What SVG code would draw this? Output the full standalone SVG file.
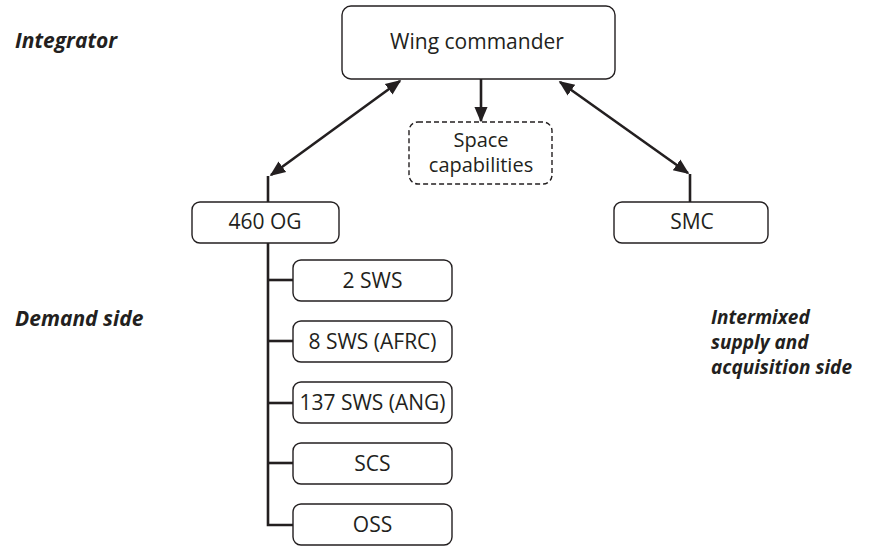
<svg xmlns="http://www.w3.org/2000/svg" width="875" height="546" viewBox="0 0 875 546">
<defs>
<style>
.box{fill:#fff;stroke:#231f20;stroke-width:1.4}
.dash{fill:#fff;stroke:#231f20;stroke-width:1.4;stroke-dasharray:5 3}
.t{font-family:"Open Sans","Noto Sans",sans-serif;font-size:21px;fill:#231f20;text-anchor:middle}
.t2{font-family:"Open Sans","Noto Sans",sans-serif;font-size:20px;fill:#231f20;text-anchor:middle}
.lab{font-family:"Open Sans","Noto Sans",sans-serif;font-size:21px;font-weight:bold;font-style:italic;fill:#231f20}
.lab2{font-family:"Open Sans","Noto Sans",sans-serif;font-size:19px;font-weight:bold;font-style:italic;fill:#231f20}
.c{stroke:#231f20;stroke-width:2.6;fill:none}
</style>
<marker id="ah" viewBox="0 0 10 10" refX="9" refY="5" markerWidth="6" markerHeight="6" orient="auto-start-reverse" markerUnits="strokeWidth">
<path d="M0,0.8 L10,5 L0,9.2 z" fill="#231f20"/>
</marker>
</defs>
<text class="lab" x="15" y="48">Integrator</text>
<text class="lab" x="15" y="326">Demand side</text>
<text class="lab2" x="711" y="324">Intermixed</text>
<text class="lab2" x="711" y="349">supply and</text>
<text class="lab2" x="711" y="374">acquisition side</text>
<g id="connectors">
<line class="c" x1="271" y1="175" x2="400" y2="81" marker-start="url(#ah)" marker-end="url(#ah)"/>
<line class="c" x1="268" y1="176" x2="268" y2="202"/>
<line class="c" x1="481" y1="79" x2="481" y2="121" marker-end="url(#ah)"/>
<line class="c" x1="560" y1="82" x2="688" y2="173" marker-start="url(#ah)" marker-end="url(#ah)"/>
<line class="c" x1="690" y1="174" x2="690" y2="202"/>
<polyline class="c" points="268,243 268,525 293,525"/>
<line class="c" x1="268" y1="280" x2="293" y2="280"/>
<line class="c" x1="268" y1="341" x2="293" y2="341"/>
<line class="c" x1="268" y1="403" x2="293" y2="403"/>
<line class="c" x1="268" y1="463" x2="293" y2="463"/>
</g>
<g id="wing"><rect class="box" x="342" y="6" width="273" height="73" rx="9"/><text class="t" x="477" y="49">Wing commander</text></g>
<g id="space"><rect class="dash" x="409" y="122" width="143" height="62" rx="9"/><text class="t2" x="481" y="147">Space</text><text class="t2" x="481" y="172">capabilities</text></g>
<g id="og"><rect class="box" x="192" y="202" width="147" height="41" rx="8"/><text class="t" x="265" y="229">460 OG</text></g>
<g id="smc"><rect class="box" x="614" y="202" width="154" height="41" rx="8"/><text class="t" x="692" y="229">SMC</text></g>
<g id="sws2"><rect class="box" x="293" y="260" width="159" height="41" rx="8"/><text class="t" x="372.5" y="288">2 SWS</text></g>
<g id="sws8"><rect class="box" x="293" y="321" width="159" height="41" rx="8"/><text class="t" x="372.5" y="349">8 SWS (AFRC)</text></g>
<g id="sws137"><rect class="box" x="293" y="382" width="159" height="41" rx="8"/><text class="t" x="372.5" y="410">137 SWS (ANG)</text></g>
<g id="scs"><rect class="box" x="293" y="443" width="159" height="41" rx="8"/><text class="t" x="372.5" y="471">SCS</text></g>
<g id="oss"><rect class="box" x="293" y="504" width="159" height="41" rx="8"/><text class="t" x="372.5" y="532">OSS</text></g>
</svg>
